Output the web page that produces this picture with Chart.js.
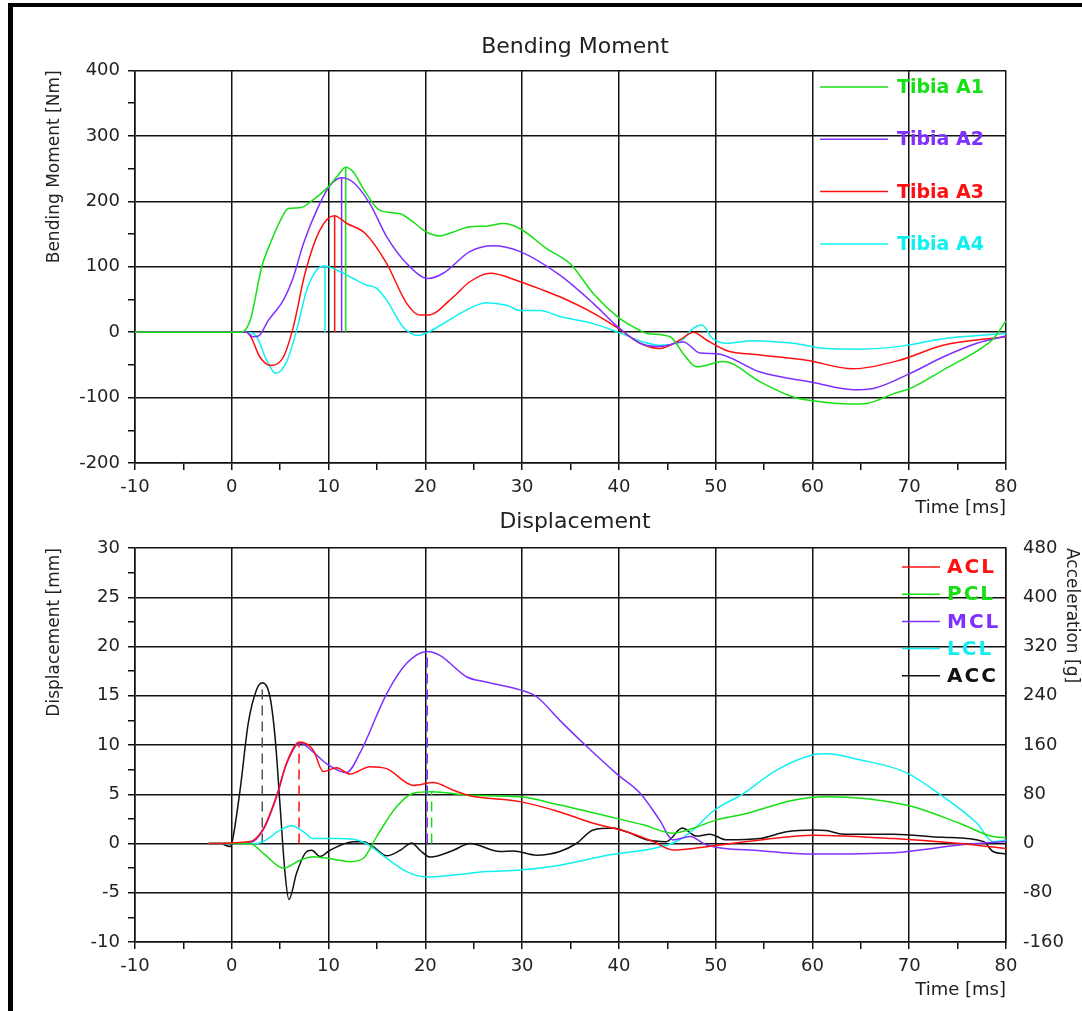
<!DOCTYPE html>
<html>
<head>
<meta charset="utf-8">
<title>Bending Moment / Displacement</title>
<script src="https://cdn.jsdelivr.net/npm/chart.js@4.4.1/dist/chart.umd.min.js"></script>
<style>
  html, body { margin: 0; padding: 0; background: #fff; overflow: hidden; width: 1082px; height: 1011px; }
  #frame { position: absolute; left: 8px; top: 3px; width: 1074px; height: 1008px;
           border-left: 5px solid #000; border-top: 4px solid #000; box-sizing: border-box; z-index: 2; }
  canvas { position: absolute; left: 0; }
  #chart { top: 0; }
  #chart2 { top: 500px; }
</style>
</head>
<body>
<div id="frame"></div>
<canvas id="chart" width="1150" height="520"></canvas>
<canvas id="chart2" width="1150" height="511"></canvas>
<script>
// ---- Bending moment [Nm] vs time [ms] ----
const timeA1 = [-10, 1.0, 1.9, 3.1, 4.1, 5.0, 5.84, 7.05, 8.4, 9.97, 11.0, 11.77, 12.6, 13.6, 15.3, 17.4, 18.76, 20.1, 21.5, 22.9, 24.6, 26.3, 28.06, 29.8, 32.5, 35.0, 37.35, 39.9, 41.5, 42.9, 45.3, 46.65, 48.0, 50.8, 54.6, 58.0, 60.1, 63.9, 65.6, 68.4, 70.1, 73.5, 77.7, 78.7, 80];
const momentA1 = [0, 0, 18, 100, 140, 170, 189, 190, 202, 222, 240, 252, 244, 219, 186, 181, 168, 153, 147, 153, 161, 162, 166, 158, 128, 104, 59, 23, 8, -2, -7, -33, -53, -45, -76, -99, -105, -110, -109, -94, -86, -58, -22, -10, 17];

const timeA2 = [-10, 1.5, 2.2, 2.75, 3.78, 5.33, 6.36, 7.4, 8.77, 10.15, 11.35, 12.55, 14.28, 16.0, 18.07, 20.3, 21.85, 24.6, 27.0, 29.8, 33.9, 37.35, 39.9, 42.2, 44.2, 46.65, 48.4, 50.1, 54.6, 60.1, 64.2, 66.3, 70.1, 73.5, 77.0, 80];
const momentA2 = [0, 0, -7, -6, 18, 49, 84, 135, 186, 224, 236, 229, 196, 146, 105, 82, 90, 123, 132, 123, 87, 44, 8, -17, -22, -15, -32, -33, -61, -77, -88, -86, -63, -38, -17, -6];

const timeA3 = [-10, 1.5, 2.0, 2.9, 4.1, 5.33, 6.36, 7.57, 9.1, 10.6, 11.9, 13.77, 16.0, 18.07, 19.45, 20.3, 22.9, 24.6, 26.7, 29.8, 32.2, 33.9, 37.35, 39.9, 42.2, 44.2, 46.3, 47.7, 49.05, 51.1, 54.6, 59.4, 64.2, 69.0, 73.5, 80];
const momentA3 = [0, 0, -8, -38, -51, -38, 8, 90, 156, 178, 166, 151, 105, 44, 26, 26, 54, 77, 90, 77, 64, 54, 29, 6, -17, -25, -12, 0, -12, -28, -35, -43, -56, -43, -20, -7];

const timeA4 = [-10, 1.5, 2.57, 3.6, 4.54, 5.67, 6.7, 7.74, 8.77, 9.6, 10.84, 12.55, 13.9, 14.97, 16.0, 17.7, 19.27, 20.3, 21.85, 23.9, 26.3, 28.4, 29.8, 31.85, 33.9, 37.35, 39.9, 42.5, 44.2, 46.3, 47.7, 48.55, 49.7, 51.1, 53.8, 58.0, 61.4, 64.9, 69.4, 73.5, 80];
const momentA4 = [0, 0, -7, -43, -63, -45, 3, 64, 95, 101, 95, 82, 72, 67, 49, 8, -5, 0, 13, 31, 45, 41, 33, 33, 24, 13, 0, -15, -20, -15, 6, 11, -10, -17, -13, -17, -25, -26, -21, -10, -2];

// peak markers (time, moment) for A1..A4
const peakTimeTop = [11.77, 11.35, 10.63, 9.63];
const peakMomentTop = [252, 236, 178, 101];

// ---- Displacement [mm] and acceleration [g] vs time [ms] ----
const timeACL = [-2.4, 1.9, 3.26, 4.64, 5.67, 7.0, 8.4, 9.46, 10.84, 12.2, 14.28, 16.0, 18.76, 20.8, 22.9, 24.6, 29.8, 33.9, 37.35, 40.8, 43.55, 45.6, 47.7, 50.45, 54.6, 60.1, 68.4, 75.2, 80];
const dispACL = [0, 0.2, 1.5, 4.9, 8.2, 10.3, 9.5, 7.3, 7.7, 7.05, 7.8, 7.6, 5.9, 6.2, 5.4, 4.85, 4.25, 3.2, 2.05, 1.2, 0.2, -0.65, -0.5, -0.15, 0.35, 0.85, 0.5, 0, -0.5];

const timePCL = [-2.4, 1.9, 3.26, 5.33, 7.05, 8.4, 10.5, 12.2, 13.6, 14.97, 17.0, 18.76, 20.65, 24.6, 29.8, 33.9, 39.75, 42.5, 45.6, 47.7, 50.1, 53.2, 58.0, 61.4, 69.7, 75.2, 78.65, 80];
const dispPCL = [0, 0, -1.0, -2.5, -1.7, -1.35, -1.6, -1.85, -1.5, 0.7, 3.7, 5.1, 5.25, 4.9, 4.75, 3.9, 2.55, 1.9, 1.05, 1.55, 2.4, 3.05, 4.4, 4.75, 3.9, 2.05, 0.7, 0.6];

const timeMCL = [-2.4, 1.9, 3.26, 4.64, 5.67, 7.05, 8.4, 9.8, 11.86, 13.25, 16.0, 18.07, 20.2, 21.5, 24.3, 26.3, 29.8, 31.5, 33.9, 36.3, 39.75, 42.2, 44.2, 45.6, 47.35, 49.05, 54.6, 60.1, 68.4, 75.2, 80];
const dispMCL = [0, 0.1, 1.4, 4.75, 8.1, 10.2, 9.3, 8.1, 7.2, 9.2, 15.2, 18.3, 19.5, 19.1, 16.9, 16.4, 15.6, 14.9, 12.5, 10.2, 7.1, 5.1, 2.4, 0.35, 0.7, -0.15, -0.73, -1.07, -0.93, -0.15, 0.2];

const timeLCL = [-2.4, 2.5, 3.26, 5.0, 6.2, 7.4, 8.4, 10.84, 12.55, 13.9, 16.0, 18.07, 20.1, 22.9, 26.3, 29.8, 33.9, 39.1, 43.55, 45.95, 47.7, 49.7, 52.9, 56.3, 60.1, 61.4, 64.9, 69.7, 73.5, 77.0, 78.65, 80];
const dispLCL = [0, 0, 0.2, 1.35, 1.8, 1.2, 0.5, 0.5, 0.43, 0, -1.5, -2.85, -3.4, -3.2, -2.85, -2.7, -2.2, -1.15, -0.5, 0.2, 1.4, 3.25, 5.1, 7.45, 9.0, 9.1, 8.5, 7.2, 4.75, 2.05, 0.2, 0.35];

const timeACC = [-2.4, -1.2, -0.2, 0.0, 0.85, 1.7, 2.57, 3.15, 3.95, 4.5, 5.0, 5.5, 5.9, 6.7, 7.57, 8.26, 9.1, 10.15, 12.55, 13.6, 14.6, 16.0, 17.4, 18.6, 19.45, 20.5, 22.9, 24.6, 27.7, 29.1, 31.5, 33.9, 35.6, 37.35, 39.4, 40.8, 42.85, 44.9, 46.55, 48.0, 49.4, 51.1, 54.6, 57.3, 60.1, 61.4, 63.2, 68.4, 73.5, 77.7, 78.65, 80];
const accACC = [0, 0, -5, 0, 86, 195, 250, 261, 238, 168, 59, -48, -91, -48, -16, -11, -21, -11, 3, 3, -5, -20, -11, 1, -11, -22, -11, 0, -13, -12, -19, -13, 0, 22, 25, 19, 6, 3, 25, 12, 15, 6, 8, 19, 22, 21, 15, 15, 10, 3, -13, -17];

// peak markers: ACC (g), ACL, MCL, PCL (mm)
const peakTimeACC = 3.15, peakACC = 261;
const peakTimeBottom = [6.95, 20.2, 20.65];
const peakDispBottom = [10.25, 19.5, 5.25];

const GREEN = '#14e014';
const PURPLE = '#7f30ff';
const RED = '#ff1010';
const CYAN = '#10f0f0';
const GRID = '#111111';
const FONT = "'DejaVu Sans', sans-serif";

// canvas is wider than the page so the centred titles land where the original has them
const RIGHT_SPACE = 144;

Chart.defaults.font.family = FONT;
Chart.defaults.color = '#222';

function pts(t, v) {
    return t.map((x, i) => ({ x: x, y: v[i] }));
}

function curve(label, t, v, color, axis) {
    return {
        label: label,
        data: pts(t, v),
        borderColor: color,
        backgroundColor: color,
        borderWidth: 1.5,
        pointRadius: 0,
        cubicInterpolationMode: 'monotone',
        inLegend: true,
        yAxisID: axis || 'y'
    };
}

function marker(t, peak, color, dashed, axis) {
    return {
        label: '',
        data: [{ x: t, y: 0 }, { x: t, y: peak }],
        borderColor: color,
        borderWidth: 1.5,
        borderDash: dashed ? [10, 6] : [],
        pointRadius: 0,
        yAxisID: axis || 'y'
    };
}

// legend drawn inside the plot, like the original figure
const inlineLegend = {
    id: 'inlineLegend',
    afterDatasetsDraw(chart, args, opts) {
        const ctx = chart.ctx;
        ctx.save();
        ctx.font = opts.font;
        if (opts.spacing) ctx.letterSpacing = opts.spacing;
        ctx.textBaseline = 'middle';
        let row = 0;
        chart.data.datasets.forEach(ds => {
            if (!ds.inLegend) return;
            const y = opts.y + row * opts.rowGap;
            ctx.strokeStyle = ds.borderColor;
            ctx.lineWidth = 1.5;
            ctx.beginPath();
            ctx.moveTo(opts.x, y);
            ctx.lineTo(opts.x + opts.lineLen, y);
            ctx.stroke();
            ctx.fillStyle = ds.borderColor;
            ctx.fillText(ds.label, opts.x + opts.lineLen + opts.gap, y + 1);
            row++;
        });
        ctx.restore();
    }
};

const tickFont = { family: FONT, size: 18 };
const titleFont = { family: FONT, size: 17 };

function timeAxis(height, titleBottom) {
    return {
        type: 'linear',
        min: -10,
        max: 80,
        afterFit: s => { s.height = height; },
        ticks: {
            stepSize: 5,
            autoSkip: false,
            maxRotation: 0,
            padding: 7,
            font: tickFont,
            color: '#222',
            callback: v => (v % 10 === 0 ? v : '')
        },
        grid: {
            color: c => (c.tick && c.tick.value % 10 === 0 ? GRID : 'rgba(0,0,0,0)'),
            lineWidth: 1.5,
            tickColor: GRID,
            tickLength: 7
        },
        border: { color: GRID, width: 1.5 },
        title: {
            display: true,
            text: 'Time [ms]',
            align: 'end',
            color: '#222',
            font: { family: FONT, size: 18 },
            padding: { top: 0, bottom: titleBottom }
        }
    };
}

function valueAxis(min, max, step, major, text) {
    return {
        min: min,
        max: max,
        afterFit: s => { s.width = 135; },
        ticks: {
            stepSize: step,
            autoSkip: false,
            padding: 8,
            font: tickFont,
            color: '#222',
            callback: v => (v % major === 0 ? v : '')
        },
        grid: {
            color: c => (c.tick && c.tick.value % major === 0 ? GRID : 'rgba(0,0,0,0)'),
            lineWidth: 1.5,
            tickColor: GRID,
            tickLength: 7
        },
        border: { color: GRID, width: 1.5 },
        title: {
            display: true,
            text: text,
            align: 'end',
            color: '#222',
            font: titleFont,
            padding: { top: 44, bottom: 0 }
        }
    };
}

document.addEventListener("DOMContentLoaded", () => {
    const chart1 = document.getElementById('chart');
    const chart2 = document.getElementById('chart2');

    new Chart(chart1, {
        type: 'line',
        data: {
            datasets: [
                curve('Tibia A1', timeA1, momentA1, GREEN),
                curve('Tibia A2', timeA2, momentA2, PURPLE),
                curve('Tibia A3', timeA3, momentA3, RED),
                curve('Tibia A4', timeA4, momentA4, CYAN),
                marker(peakTimeTop[0], peakMomentTop[0], GREEN, false),
                marker(peakTimeTop[1], peakMomentTop[1], PURPLE, false),
                marker(peakTimeTop[2], peakMomentTop[2], RED, false),
                marker(peakTimeTop[3], peakMomentTop[3], CYAN, false)
            ]
        },
        options: {
            responsive: false,
            animation: false,
            events: [],
            devicePixelRatio: 1,
            layout: { padding: 0 },
            scales: {
                x: timeAxis(57, 1),
                y: valueAxis(-200, 400, 50, 100, 'Bending Moment [Nm]'),
                pad: {
                    position: 'right',
                    afterFit: s => { s.width = RIGHT_SPACE; },
                    ticks: { display: false },
                    grid: { display: false },
                    border: { display: false }
                }
            },
            plugins: {
                legend: { display: false },
                tooltip: { enabled: false },
                title: {
                    display: true,
                    text: 'Bending Moment',
                    color: '#222',
                    font: { family: FONT, size: 22, weight: 'normal' },
                    padding: { top: 34, bottom: 10 }
                },
                inlineLegend: { x: 820, y: 87, rowGap: 52.3, lineLen: 68, gap: 9, font: "bold 19px 'DejaVu Sans'" }
            }
        },
        plugins: [inlineLegend]
    });

    const accAxis = {
        position: 'right',
        min: -160,
        max: 480,
        afterFit: s => { s.width = RIGHT_SPACE; },
        ticks: {
            stepSize: 40,
            autoSkip: false,
            padding: 17,
            font: tickFont,
            color: '#222',
            callback: v => (v % 80 === 0 ? v : '')
        },
        grid: { drawOnChartArea: false, drawTicks: false },
        border: { color: GRID, width: 1.5 },
        title: {
            display: true,
            text: 'Acceleration [g]',
            align: 'end',
            color: '#222',
            font: titleFont,
            padding: { top: 68, bottom: 0 }
        }
    };

    new Chart(chart2, {
        type: 'line',
        data: {
            datasets: [
                curve('ACL', timeACL, dispACL, RED),
                curve('PCL', timePCL, dispPCL, GREEN),
                curve('MCL', timeMCL, dispMCL, PURPLE),
                curve('LCL', timeLCL, dispLCL, CYAN),
                curve('ACC', timeACC, accACC, '#111111', 'y1'),
                marker(peakTimeACC, peakACC, '#555555', true, 'y1'),
                marker(peakTimeBottom[0], peakDispBottom[0], RED, true),
                marker(peakTimeBottom[1], peakDispBottom[1], PURPLE, true),
                marker(peakTimeBottom[2], peakDispBottom[2], GREEN, true)
            ]
        },
        options: {
            responsive: false,
            animation: false,
            events: [],
            devicePixelRatio: 1,
            layout: { padding: 0 },
            scales: {
                x: timeAxis(69, 10),
                y: valueAxis(-10, 30, 2.5, 5, 'Displacement [mm]'),
                y1: accAxis
            },
            plugins: {
                legend: { display: false },
                tooltip: { enabled: false },
                title: {
                    display: true,
                    text: 'Displacement',
                    color: '#222',
                    font: { family: FONT, size: 22, weight: 'normal' },
                    padding: { top: 9, bottom: 12.6 }
                },
                inlineLegend: { x: 902, y: 67, rowGap: 27.2, lineLen: 38, gap: 7, spacing: '2px', font: "bold 20px 'DejaVu Sans'" }
            }
        },
        plugins: [inlineLegend]
    });
});
</script>
</body>
</html>
